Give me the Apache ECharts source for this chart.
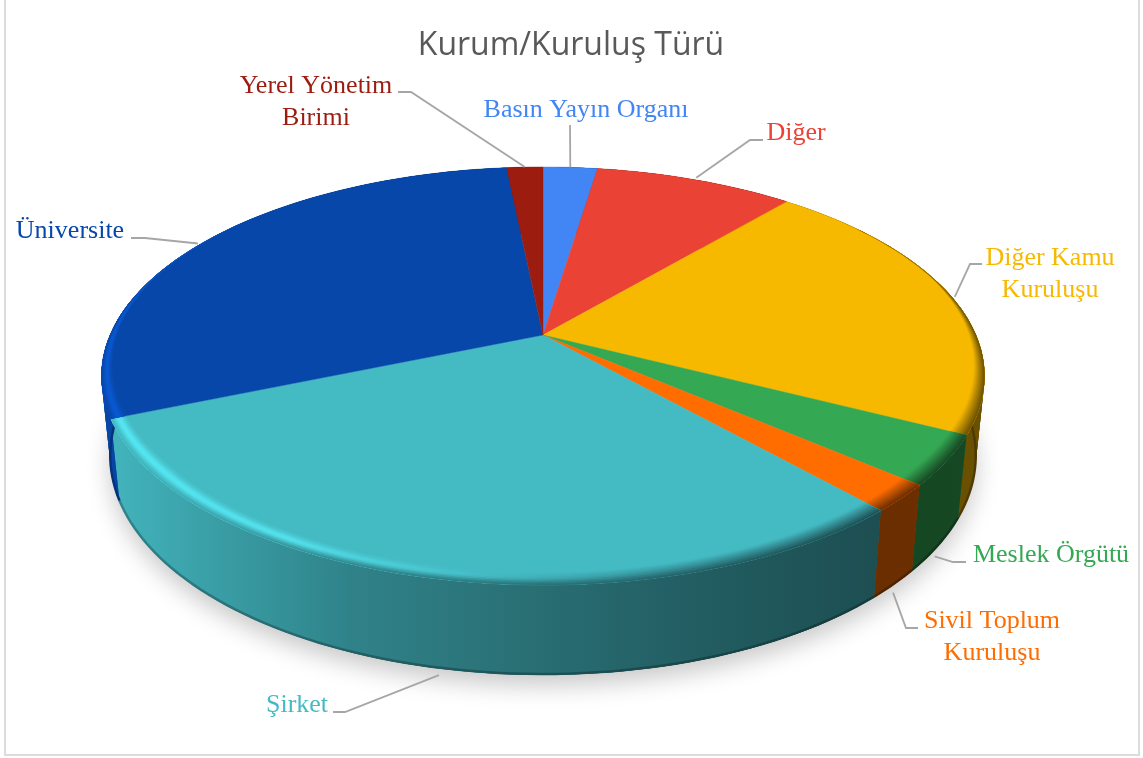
<!DOCTYPE html>
<html>
<head>
<meta charset="utf-8">
<title>Kurum/Kuruluş Türü</title>
<script src="https://cdn.jsdelivr.net/npm/echarts@6/dist/echarts.min.js"></script>
<style>
    html, body { margin: 0; padding: 0; background: #fff; }
    #main { width: 1143px; height: 758px; }
</style>
</head>
<body>
<div id="main"></div>
<script>
// values, clockwise from 12 o'clock
const categories = ['Basın Yayın Organı', 'Diğer', 'Diğer Kamu\nKuruluşu', 'Meslek Örgütü', 'Sivil Toplum\nKuruluşu', 'Şirket', 'Üniversite', 'Yerel Yönetim\nBirimi']
const shares = [2.4, 8.8, 21.3, 3.8, 2.1, 30.3, 29.7, 1.6]
const colors = ['#4285F4', '#EA4335', '#F7B900', '#34A853', '#FF6D00', '#44BAC3', '#0747A9', '#9C1C10']

// label placement: text centre, leader elbow and end, which rim the leader touches, nudge from that rim
const labelLayout = [
    { x: 586, y: 110, rim: 'top', nudge: [0, 0], path: [[570, 125]] },
    { x: 796, y: 133, rim: 'top', nudge: [1, -2], path: [[750, 140], [763, 140]] },
    { x: 1050, y: 274, rim: 'top', nudge: [3, 0], path: [[970, 264], [982, 264]] },
    { x: 1051, y: 555, rim: 'bottom', nudge: [-4, 11], path: [[953, 562], [966, 562]] },
    { x: 992, y: 637, rim: 'bottom', nudge: [-1, 8], path: [[906, 628], [918, 628]] },
    { x: 297, y: 705, rim: 'bottom', nudge: [12, 8], path: [[345, 712], [333, 712]] },
    { x: 70, y: 231, rim: 'top', nudge: [-7, 2], path: [[145, 238], [131, 238]] },
    { x: 316, y: 102, rim: 'top', nudge: [0, 0], path: [[411, 92], [398, 92]] }
]

const total = shares.reduce((a, b) => a + b, 0)
const starts = shares.map((v, i) => shares.slice(0, i).reduce((a, b) => a + b, 0))

// perspective of the disc
const CX = 543, CY = 335, RX = 433, RY = 201, TILT = 0.196
const STEP = total / 240

// wall brightness across the page, and the rim glint
const shadeX = [100, 350, 700, 880, 990]
const shadeK = [0.98, 0.7, 0.5, 0.42, 0.43]
const glintX = [100, 290, 420, 550, 650, 750, 990]
const glintK = [0.7, 1, 0.75, 0.35, 0.1, 0, 0]
const gradX = [100, 200, 290, 350, 420, 550, 650, 700, 750, 880, 990]

function lerpTable (xs, ks, x) {
    for (let i = 1; i < xs.length; i++) {
        if (x <= xs[i]) {
            return ks[i - 1] + (ks[i] - ks[i - 1]) * (x - xs[i - 1]) / (xs[i] - xs[i - 1])
        }
    }
    return ks[ks.length - 1]
}
function rgb (hex) {
    return [1, 3, 5].map(i => parseInt(hex.substr(i, 2), 16))
}
function css (c) {
    return 'rgb(' + c.map(v => Math.min(255, Math.round(v))).join(',') + ')'
}
function hGradient (fn) {
    return {
        type: 'linear', global: true, x: 100, y: 0, x2: 990, y2: 0,
        colorStops: gradX.map(x => ({ offset: (x - 100) / 890, color: fn(x) }))
    }
}
function wallFill (hex, k) {
    const c = rgb(hex)
    return hGradient(x => css(c.map(v => v * lerpTable(shadeX, shadeK, x) * k)))
}
function bandFill (hex, t) {
    const c = rgb(hex)
    const bell = Math.exp(-Math.pow((t - 0.5) / 0.32, 2))
    return hGradient(x => {
        const s = lerpTable(shadeX, shadeK, x)
        const g = 1 + 0.36 * lerpTable(glintX, glintK, x) * bell
        return css(c.map(v => v * ((1 - t) + s * t) * g))
    })
}

// polar axes give the angle, the result is pressed onto the tilted disc
function unit (api, a) {
    const p = api.coord([1, a])
    return [(p[0] - 100) / 100, (p[1] - 100) / 100]
}
function project (u, r) {
    const x = u[0] * r, y = u[1] * r
    const d = 1 - TILT * y
    return [CX + RX * x / d, CY + RY * y / d]
}
function topRim (api, a) {
    return project(unit(api, a), 1)
}
function bottomRim (api, a) {
    const u = unit(api, a)
    const p = project(u, 1)
    return [CX + (p[0] - CX) * 0.98, p[1] + 78 + 12 * u[1]]
}
function angles (from, to) {
    const out = []
    for (let a = from; a < to; a += STEP) out.push(a)
    out.push(to)
    return out
}
function taper (u) {
    const y = u[1]
    if (y < -0.3) return Math.max(0, 0.1 * (y + 0.7) / 0.4)
    return 0.1 + 0.9 * Math.min(1, (y + 0.3) / 0.9)
}

function renderShadow (params, api) {
    const pts = angles(0, total).map(a => bottomRim(api, a))
    return {
        type: 'polygon',
        shape: { points: pts },
        style: { fill: '#d8d8d8', shadowColor: 'rgba(0,0,0,0.22)', shadowBlur: 24, shadowOffsetY: 10 },
        silent: true
    }
}

function renderWall (params, api) {
    const i = params.dataIndex
    const list = angles(starts[i], starts[i] + shares[i])
    const top = list.map(a => topRim(api, a))
    const bot = list.map(a => bottomRim(api, a))
    const fill = wallFill(colors[i], 1)
    const children = []
    // strips fill the tangent corners of the drum, the outline on top hides their seams
    for (let k = 0; k < list.length - 1; k++) {
        const n = Math.min(k + 2, list.length - 1)
        children.push({
            type: 'polygon',
            shape: { points: [top[k], top[n], bot[n], bot[k]] },
            style: { fill: fill }
        })
    }
    children.push({
        type: 'polygon',
        shape: { points: top.concat(bot.slice().reverse()) },
        style: { fill: fill }
    })
    children.push({
        type: 'polyline',
        shape: { points: bot.map(p => [p[0], p[1] - 1]) },
        style: { fill: null, stroke: wallFill(colors[i], 0.74), lineWidth: 2.5 }
    })
    return { type: 'group', children: children }
}

function renderTop (params, api) {
    const i = params.dataIndex
    const list = angles(starts[i], starts[i] + shares[i])
    const rim = list.map(a => topRim(api, a))
    const children = [{
        type: 'polygon',
        shape: { points: [project([0, 0], 1)].concat(rim) },
        style: { fill: colors[i], stroke: colors[i], lineWidth: 0.4 }
    }]
    // soft bevel, stacked from the inside out
    const BANDS = 9, WIDTH = 0.042
    for (let b = 0; b < BANDS; b++) {
        const inner = list.map(a => {
            const u = unit(api, a)
            return project(u, 1 - WIDTH * taper(u) * (1 - b / BANDS))
        })
        children.push({
            type: 'polygon',
            shape: { points: inner.concat(rim.slice().reverse()) },
            style: { fill: bandFill(colors[i], (b + 0.5) / BANDS) }
        })
    }
    return { type: 'group', children: children }
}

function renderLabel (params, api) {
    const i = params.dataIndex
    const spot = labelLayout[i]
    const mid = starts[i] + shares[i] / 2
    const p = spot.rim === 'top' ? topRim(api, mid) : bottomRim(api, mid)
    const end = [p[0] + spot.nudge[0], p[1] + spot.nudge[1]]
    return {
        type: 'group',
        children: [
            {
                type: 'polyline',
                shape: { points: [end].concat(spot.path) },
                style: { fill: null, stroke: '#a6a6a6', lineWidth: 1.8 }
            },
            {
                type: 'text',
                style: {
                    x: spot.x, y: spot.y, text: categories[i], fill: colors[i],
                    font: '26px "Liberation Serif"', align: 'center', verticalAlign: 'middle', lineHeight: 32
                }
            }
        ]
    }
}

const sliceRows = shares.map((v, i) => [1, starts[i]])

const chart = echarts.init(document.getElementById('main'), null, { renderer: 'canvas' })
chart.setOption({
    animation: false,
    backgroundColor: '#fff',
    title: {
        text: 'Kurum/Kuruluş Türü',
        left: 566,
        top: 25,
        textAlign: 'center',
        textStyle: { color: '#595959', fontSize: 32, fontWeight: 'normal', fontFamily: '"Open Sans"' }
    },
    polar: { center: [100, 100], radius: 100 },
    angleAxis: { show: false, type: 'value', min: 0, max: total, startAngle: 90 },
    radiusAxis: { show: false, type: 'value', min: 0, max: 1 },
    // frame runs off the top of the page, only three sides show
    graphic: [{
        type: 'rect',
        shape: { x: 5, y: -5, width: 1134, height: 760 },
        style: { fill: null, stroke: '#dcdcdc', lineWidth: 2 },
        silent: true
    }],
    series: [
        { type: 'custom', name: 'shadow', coordinateSystem: 'polar', z: 1, silent: true, renderItem: renderShadow, data: [[1, 0]] },
        { type: 'custom', name: 'walls', coordinateSystem: 'polar', z: 2, silent: true, renderItem: renderWall, data: sliceRows },
        { type: 'custom', name: 'tops', coordinateSystem: 'polar', z: 3, silent: true, renderItem: renderTop, data: sliceRows },
        { type: 'custom', name: 'labels', coordinateSystem: 'polar', z: 4, silent: true, renderItem: renderLabel, data: sliceRows }
    ]
})
</script>
</body>
</html>
